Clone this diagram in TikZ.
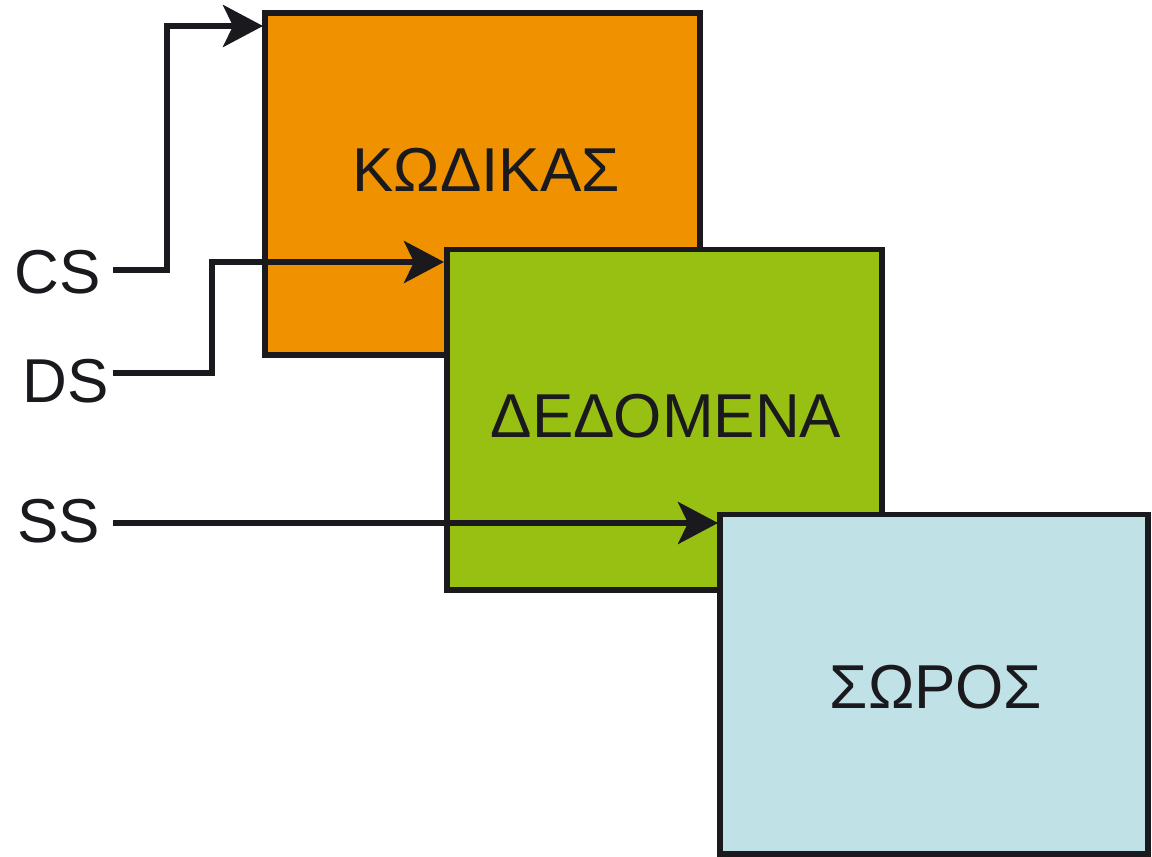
\documentclass[tikz,border=0pt]{standalone}
\usepackage{fontspec}
\setmainfont{Liberation Sans}
\usetikzlibrary{arrows.meta}
\definecolor{edgec}{RGB}{26,26,30}
\definecolor{orangec}{RGB}{240,146,0}
\definecolor{greenc}{RGB}{152,192,18}
\definecolor{bluec}{RGB}{192,225,230}
\tikzset{
  seg/.style={draw=edgec, line width=2.9pt, inner sep=0pt, outer sep=0pt},
  txt/.style={font=\fontsize{31pt}{31pt}\selectfont, text=edgec, inner sep=0pt, anchor=base west},
  boxtxt/.style={font=\fontsize{31pt}{31pt}\selectfont, text=edgec, inner sep=0pt, anchor=base},
  conn/.style={draw=edgec, line width=2.9pt, -{Stealth[length=20pt,width=21pt,inset=5pt]}}
}
\begin{document}
\begin{tikzpicture}[x=0.5pt,y=-0.5pt]
\useasboundingbox (0,0) rectangle (1152,857);
% orange box
\node[seg, fill=orangec, minimum width=217.5pt, minimum height=171pt] (code) at (482.5,184) {};
\node[boxtxt] (codet) at (486,191) {ΚΩΔΙΚΑΣ};
% labels
\node[txt] (cs) at (14,293) {CS};
\node[txt] (ds) at (22,402) {DS};
\node[txt] (ss) at (17,542) {SS};
% coordinates
\coordinate (cs0) at (113,270);
\coordinate (csb) at (167,26);
\coordinate (csin) at (263,26);
\coordinate (ds0) at (113,373);
\coordinate (dsb) at (212,262);
\coordinate (dsin) at (444,262);
\coordinate (ss0) at (113,523);
\coordinate (ssin) at (718,523);
% CS arrow
\draw[conn] (cs0) -| (csb) -- (csin);
% DS arrow
\draw[conn] (ds0) -| (dsb) -- (dsin);
% green box
\node[seg, fill=greenc, minimum width=217.5pt, minimum height=170.25pt] (data) at (664.5,419.75) {};
\node[boxtxt] (datat) at (666,437) {ΔΕΔΟΜΕΝΑ};
% SS arrow
\draw[conn] (ss0) -- (ssin);
% blue box
\node[seg, fill=bluec, minimum width=214pt, minimum height=169.75pt] (heap) at (934,684.25) {};
\node[boxtxt] (heapt) at (936,708) {ΣΩΡΟΣ};
\end{tikzpicture}
\end{document}
